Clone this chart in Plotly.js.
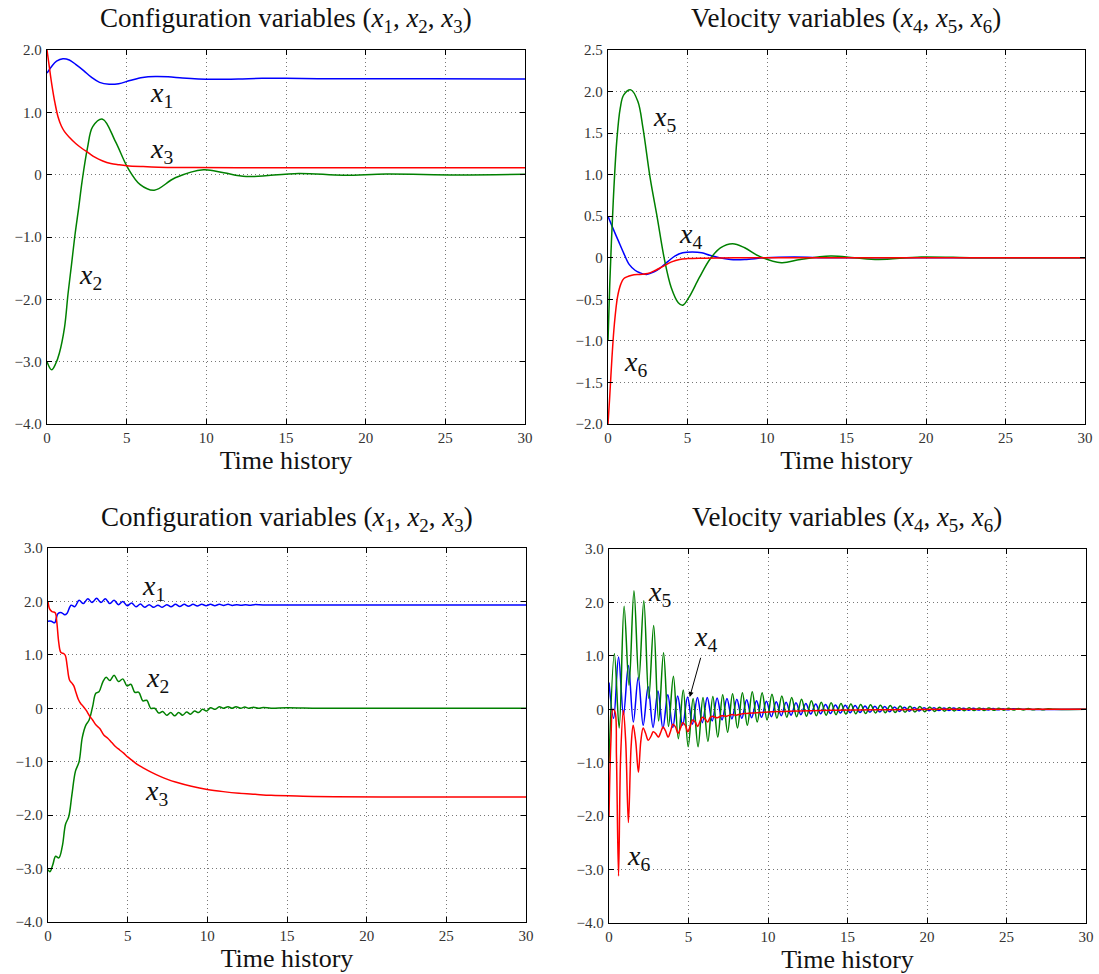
<!DOCTYPE html>
<html>
<head>
<meta charset="utf-8">
<script src="https://cdn.plot.ly/plotly-3.0.1.min.js"></script>
<style>html,body{margin:0;padding:0;background:#fff;}#chart{width:1099px;height:974px;}</style>
</head>
<body>
<div id="chart"></div>
<script>
// ---------- Data: top-left (configuration variables, case 1) ----------
const tl_t1 = [0, 0.3, 0.6, 1.0, 1.4, 1.8, 2.3, 2.8, 3.3, 3.9, 4.5, 5.2, 6.0, 6.8, 7.6, 8.5, 9.5, 10.5, 12, 13.5, 15, 17, 20, 24, 30];
const tl_x1 = [1.63, 1.74, 1.82, 1.86, 1.84, 1.77, 1.67, 1.56, 1.48, 1.45, 1.46, 1.51, 1.56, 1.575, 1.57, 1.55, 1.535, 1.53, 1.535, 1.545, 1.545, 1.54, 1.54, 1.54, 1.535];
const tl_t2 = [0, 0.29, 0.55, 0.77, 1.1, 1.32, 1.54, 1.76, 1.99, 2.2, 2.54, 2.87, 3.49, 4.3, 5.07, 5.85, 6.73, 8.05, 9.82, 11.1, 12.5, 15.8, 18.6, 21.3, 25.7, 30];
const tl_x2 = [-3.0, -3.13, -3.03, -2.87, -2.45, -1.91, -1.44, -0.96, -0.53, -0.11, 0.43, 0.77, 0.89, 0.53, 0.11, -0.16, -0.25, -0.05, 0.08, 0.03, -0.03, 0.02, -0.01, 0.01, -0.005, 0.005];
const tl_t3 = [0, 0.15, 0.3, 0.5, 0.7, 0.9, 1.1, 1.4, 1.8, 2.2, 2.6, 3.0, 3.5, 4.0, 4.5, 5.0, 6.0, 7.0, 9, 12, 20, 30];
const tl_x3 = [2.0, 1.72, 1.45, 1.15, 0.92, 0.78, 0.69, 0.6, 0.5, 0.42, 0.35, 0.28, 0.22, 0.18, 0.16, 0.145, 0.13, 0.12, 0.115, 0.11, 0.11, 0.11];

// ---------- Data: top-right (velocity variables, case 1) ----------
const tr_t4 = [0, 0.3, 0.66, 1.0, 1.33, 1.7, 2.0, 2.43, 2.9, 3.3, 3.8, 4.2, 4.7, 5.3, 5.9, 6.4, 7.0, 7.7, 8.6, 9.9, 11.7, 14, 18, 30];
const tr_x4 = [0.5, 0.36, 0.2, 0.05, -0.08, -0.15, -0.18, -0.2, -0.17, -0.12, -0.04, 0.02, 0.06, 0.07, 0.06, 0.03, 0.0, -0.02, -0.02, 0.0, 0.008, 0.0, 0.0, 0.0];
const tr_t5 = [0, 0.11, 0.33, 0.55, 0.77, 0.99, 1.44, 1.88, 2.2, 2.65, 3.1, 3.53, 3.98, 4.42, 4.7, 5.08, 5.74, 6.4, 7.07, 7.84, 8.6, 9.5, 10.9, 12.1, 14.0, 15.5, 17.0, 19.7, 23, 26, 30];
const tr_x5 = [-1.0, -0.32, 0.68, 1.4, 1.8, 1.96, 2.02, 1.88, 1.56, 0.96, 0.48, 0.0, -0.36, -0.54, -0.57, -0.48, -0.24, -0.02, 0.12, 0.17, 0.12, 0.02, -0.06, -0.02, 0.02, 0.0, -0.02, 0.01, 0.0, 0.0, 0.0];
const tr_t6 = [0, 0.1, 0.25, 0.4, 0.6, 0.8, 1.0, 1.5, 2.0, 2.5, 3.0, 3.5, 4.0, 4.5, 5.0, 6.0, 8.0, 12, 30];
const tr_x6 = [-2.0, -1.7, -1.2, -0.8, -0.47, -0.32, -0.25, -0.21, -0.2, -0.19, -0.15, -0.1, -0.05, -0.02, -0.01, -0.005, 0, 0, 0];

// ---------- Data: bottom-left (configuration variables, case 2) ----------
const bl_t1 = [0, 0.2, 0.42, 0.5, 0.62, 0.85, 1.05, 1.2, 1.45, 1.68, 1.95, 2.22, 2.5, 2.77, 3.05, 3.32, 3.6, 3.87, 4.15, 4.42, 4.7, 4.97, 5.25, 5.52, 5.8, 6.07, 6.35, 6.62, 6.9, 7.17, 7.45, 7.72, 8.0, 8.27, 8.55, 8.82, 9.1, 9.37, 9.65, 9.92, 10.2, 10.47, 10.75, 11.02, 11.3, 11.57, 11.85, 12.12, 12.4, 12.67, 12.95, 13.5, 15, 20, 30];
const bl_x1 = [1.63, 1.63, 1.6, 1.66, 1.77, 1.79, 1.75, 1.78, 1.93, 1.9, 2.02, 1.96, 2.05, 1.98, 2.06, 1.98, 2.05, 1.96, 2.02, 1.94, 2.0, 1.92, 1.97, 1.9, 1.95, 1.89, 1.94, 1.89, 1.93, 1.89, 1.94, 1.9, 1.945, 1.905, 1.945, 1.91, 1.945, 1.915, 1.945, 1.92, 1.945, 1.92, 1.945, 1.925, 1.945, 1.925, 1.94, 1.93, 1.94, 1.93, 1.94, 1.935, 1.935, 1.935, 1.935];
const bl_t2 = [0, 0.12, 0.3, 0.48, 0.68, 0.9, 1.1, 1.3, 1.5, 1.72, 1.95, 2.15, 2.37, 2.58, 2.8, 3.0, 3.2, 3.45, 3.65, 3.88, 4.15, 4.42, 4.7, 4.95, 5.2, 5.45, 5.7, 5.95, 6.2, 6.45, 6.7, 6.95, 7.2, 7.45, 7.7, 7.95, 8.2, 8.45, 8.7, 8.95, 9.2, 9.45, 9.7, 9.95, 10.2, 10.5, 10.75, 11.0, 11.3, 11.55, 11.8, 12.1, 12.35, 12.6, 12.9, 13.2, 13.5, 14, 15, 17, 20, 25, 30];
const bl_x2 = [-3.02, -3.06, -2.93, -2.77, -2.8, -2.58, -2.17, -2.03, -1.62, -1.18, -1.0, -0.55, -0.32, -0.22, 0.03, 0.28, 0.31, 0.5, 0.58, 0.52, 0.62, 0.5, 0.55, 0.42, 0.45, 0.3, 0.3, 0.14, 0.15, 0.0, 0.0, -0.09, -0.06, -0.13, -0.08, -0.14, -0.08, -0.13, -0.07, -0.11, -0.05, -0.08, -0.02, -0.05, 0.01, -0.02, 0.03, 0.0, 0.03, 0.0, 0.03, 0.0, 0.025, 0.0, 0.02, 0.0, 0.015, 0.0, 0.01, 0.0, 0.0, 0.0, 0.0];
const bl_t3 = [0, 0.1, 0.25, 0.45, 0.55, 0.68, 0.8, 1.0, 1.1, 1.2, 1.35, 1.5, 1.62, 1.75, 1.9, 2.05, 2.2, 2.4, 2.6, 2.8, 3.0, 3.25, 3.5, 3.75, 4.0, 4.25, 4.5, 4.75, 5.0, 5.3, 5.6, 6.0, 6.5, 7.0, 7.5, 8.0, 9.0, 10, 11, 12, 13, 14, 16, 18, 21, 25, 30];
const bl_x3 = [2.0, 1.86, 1.81, 1.79, 1.62, 1.22, 1.05, 1.02, 0.98, 0.8, 0.53, 0.47, 0.42, 0.3, 0.17, 0.09, 0.04, -0.04, -0.14, -0.22, -0.31, -0.38, -0.5, -0.56, -0.64, -0.72, -0.78, -0.84, -0.91, -0.98, -1.05, -1.12, -1.2, -1.27, -1.33, -1.38, -1.46, -1.52, -1.56, -1.59, -1.61, -1.63, -1.645, -1.655, -1.66, -1.66, -1.66];

// ---------- Data: bottom-right (velocity variables, case 2) ----------
const br_t4 = [0, 0.29, 0.6, 0.91, 1.22, 1.53, 1.84, 2.15, 2.46, 2.77, 3.08, 3.39, 3.7, 4.01, 4.32, 4.63, 4.94, 5.25, 5.56, 5.87, 6.18, 6.49, 6.8, 7.11, 7.42, 7.73, 8.04, 8.35, 8.66, 8.97, 9.28, 9.59, 9.9, 10.21, 10.52, 10.83, 11.14, 11.45, 11.76, 12.07, 12.38, 12.69, 13.0, 13.31, 13.62, 13.93, 14.24, 14.55, 14.86, 15.17, 15.48, 15.79, 16.1, 16.41, 16.72, 17.03, 17.34, 17.65, 17.96, 18.27, 18.58, 18.89, 19.2, 19.51, 19.82, 20.13, 20.44, 20.75, 21.06, 21.37, 21.68, 21.99, 22.3, 22.61, 22.92, 23.23, 23.54, 23.85, 24.16, 24.47, 24.78, 25.09, 25.4, 26, 30];
const br_x4 = [0.5, -0.17, 0.98, -0.1, 0.82, -0.24, 0.6, -0.3, 0.42, -0.34, 0.34, -0.36, 0.27, -0.34, 0.25, -0.3, 0.23, -0.28, 0.22, -0.25, 0.22, -0.22, 0.21, -0.2, 0.2, -0.18, 0.19, -0.17, 0.18, -0.16, 0.16, -0.15, 0.15, -0.14, 0.14, -0.12, 0.13, -0.11, 0.12, -0.1, 0.11, -0.09, 0.1, -0.085, 0.09, -0.08, 0.08, -0.07, 0.075, -0.065, 0.07, -0.06, 0.06, -0.055, 0.055, -0.05, 0.05, -0.045, 0.045, -0.04, 0.04, -0.035, 0.035, -0.03, 0.03, -0.028, 0.028, -0.025, 0.025, -0.022, 0.022, -0.02, 0.02, -0.018, 0.018, -0.015, 0.015, -0.013, 0.013, -0.011, 0.011, -0.01, 0.01, 0, 0];
const br_t5 = [0, 0.34, 0.64, 0.95, 1.26, 1.57, 1.88, 2.19, 2.5, 2.81, 3.12, 3.43, 3.74, 4.05, 4.36, 4.67, 4.98, 5.29, 5.6, 5.91, 6.22, 6.53, 6.84, 7.15, 7.46, 7.77, 8.08, 8.39, 8.7, 9.01, 9.32, 9.63, 9.94, 10.25, 10.56, 10.87, 11.18, 11.49, 11.8, 12.11, 12.42, 12.73, 13.04, 13.35, 13.66, 13.97, 14.28, 14.59, 14.9, 15.21, 15.52, 15.83, 16.14, 16.45, 16.76, 17.07, 17.38, 17.69, 18.0, 18.31, 18.62, 18.93, 19.24, 19.55, 19.86, 20.17, 20.48, 20.79, 21.1, 21.41, 21.72, 22.03, 22.34, 22.65, 22.96, 23.27, 23.58, 23.89, 24.2, 24.51, 24.82, 25.13, 25.44, 25.75, 26.06, 26.37, 26.68, 26.99, 27.3, 27.61, 28, 30];
const br_x5 = [-1.0, 1.04, -0.35, 1.93, 0.45, 2.22, 0.55, 2.03, 0.2, 1.57, -0.22, 1.06, -0.32, 0.62, -0.55, 0.36, -0.7, 0.2, -0.7, 0.22, -0.6, 0.24, -0.52, 0.27, -0.43, 0.29, -0.35, 0.31, -0.3, 0.33, -0.24, 0.31, -0.2, 0.28, -0.17, 0.25, -0.15, 0.22, -0.14, 0.19, -0.13, 0.16, -0.12, 0.13, -0.11, 0.12, -0.1, 0.11, -0.09, 0.1, -0.085, 0.09, -0.08, 0.085, -0.07, 0.075, -0.065, 0.07, -0.06, 0.06, -0.055, 0.055, -0.05, 0.05, -0.045, 0.045, -0.04, 0.04, -0.035, 0.035, -0.03, 0.03, -0.028, 0.028, -0.025, 0.025, -0.022, 0.022, -0.02, 0.02, -0.018, 0.018, -0.015, 0.015, -0.013, 0.013, -0.011, 0.011, -0.01, 0.01, 0, 0];
const br_t6 = [0, 0.12, 0.25, 0.38, 0.47, 0.6, 0.73, 0.9, 1.05, 1.22, 1.39, 1.52, 1.68, 1.85, 2.0, 2.15, 2.3, 2.47, 2.65, 2.78, 2.95, 3.1, 3.27, 3.4, 3.55, 3.72, 3.88, 4.02, 4.18, 4.34, 4.5, 4.64, 4.8, 4.96, 5.12, 5.26, 5.42, 5.58, 5.73, 5.88, 6.04, 6.2, 6.35, 6.5, 6.8, 7.1, 7.4, 7.7, 8.0, 8.5, 9.0, 10, 11, 12, 14, 17, 21, 30];
const br_x6 = [-2.0, -0.6, 0.0, -0.05, -0.9, -3.12, -0.9, -0.02, -0.6, -2.12, -0.7, -0.3, -0.6, -1.18, -0.6, -0.35, -0.45, -0.58, -0.5, -0.42, -0.46, -0.52, -0.42, -0.33, -0.4, -0.52, -0.4, -0.28, -0.33, -0.45, -0.35, -0.25, -0.3, -0.42, -0.3, -0.2, -0.24, -0.32, -0.22, -0.15, -0.18, -0.24, -0.16, -0.13, -0.16, -0.12, -0.13, -0.1, -0.11, -0.08, -0.07, -0.05, -0.04, -0.03, -0.02, -0.01, 0, 0];

// ---------- Tick labels ----------
const xTickVals = [0, 5, 10, 15, 20, 25, 30];
const xTickText = ['0', '5', '10', '15', '20', '25', '30'];
const yTickValsA = [-4, -3, -2, -1, 0, 1, 2];
const yTickTextA = ['\u22124.0', '\u22123.0', '\u22122.0', '\u22121.0', '0', '1.0', '2.0'];
const yTickValsB = [-2, -1.5, -1, -0.5, 0, 0.5, 1, 1.5, 2, 2.5];
const yTickTextB = ['\u22122.0', '\u22121.5', '\u22121.0', '\u22120.5', '0', '0.5', '1.0', '1.5', '2.0', '2.5'];
const yTickValsC = [-4, -3, -2, -1, 0, 1, 2, 3];
const yTickTextC = ['\u22124.0', '\u22123.0', '\u22122.0', '\u22121.0', '0', '1.0', '2.0', '3.0'];

const titleConfig = 'Configuration variables (<i>x</i><sub>1</sub>, <i>x</i><sub>2</sub>, <i>x</i><sub>3</sub>)';
const titleVelocity = 'Velocity variables (<i>x</i><sub>4</sub>, <i>x</i><sub>5</sub>, <i>x</i><sub>6</sub>)';
const xLabel = 'Time history';

// ---------- Styling ----------
const SERIF = "'Liberation Serif', 'Times New Roman', serif";
const BLUE = '#0000ff', GREEN = '#008000', RED = '#ff0000';
const W = 1099, H = 974;

function tr(x, y, color, xa, ya) {
  return {x: x, y: y, type: 'scatter', mode: 'lines', xaxis: xa, yaxis: ya,
          line: {color: color, width: 1.5, shape: 'spline', smoothing: 1},
          hoverinfo: 'skip', showlegend: false};
}

const data = [
  tr(tl_t1, tl_x1, BLUE, 'x', 'y'), tr(tl_t2, tl_x2, GREEN, 'x', 'y'), tr(tl_t3, tl_x3, RED, 'x', 'y'),
  tr(tr_t4, tr_x4, BLUE, 'x2', 'y2'), tr(tr_t5, tr_x5, GREEN, 'x2', 'y2'), tr(tr_t6, tr_x6, RED, 'x2', 'y2'),
  tr(bl_t1, bl_x1, BLUE, 'x3', 'y3'), tr(bl_t2, bl_x2, GREEN, 'x3', 'y3'), tr(bl_t3, bl_x3, RED, 'x3', 'y3'),
  tr(br_t4, br_x4, BLUE, 'x4', 'y4'), tr(br_t5, br_x5, GREEN, 'x4', 'y4'), tr(br_t6, br_x6, RED, 'x4', 'y4')
];

function px(a, b) { return [a / W, b / W]; }
function py(top, bottom) { return [1 - bottom / H, 1 - top / H]; }

function xa(domain, anchor) {
  return {domain: domain, anchor: anchor, range: [0, 30], tickvals: xTickVals, ticktext: xTickText,
          ticks: 'inside', ticklen: 5, tickcolor: '#000', mirror: 'allticks', showline: true,
          linecolor: '#000', linewidth: 1.3, showgrid: true, gridcolor: '#777', griddash: '1px,3px',
          gridwidth: 1, zeroline: false, fixedrange: true,
          tickfont: {family: SERIF, size: 15, color: '#333'},
          title: {text: xLabel, font: {family: SERIF, size: 26, color: '#111'}, standoff: 4}};
}
function ya(domain, anchor, range, vals, text) {
  return {domain: domain, anchor: anchor, range: range, tickvals: vals, ticktext: text,
          ticks: 'inside', ticklen: 5, tickcolor: '#000', mirror: 'allticks', showline: true,
          linecolor: '#000', linewidth: 1.3, showgrid: true, gridcolor: '#777', griddash: '1px,3px',
          gridwidth: 1, zeroline: false, fixedrange: true, ticklabelstandoff: 1,
          tickfont: {family: SERIF, size: 15, color: '#333'}};
}

function lab(text, x, y, xr, yr) {
  return {text: text, x: x, y: y, xref: xr, yref: yr, showarrow: false,
          font: {family: SERIF, size: 28, color: '#111'}};
}
function ttl(text, xc, yc) {
  return {text: text, x: xc / W, y: 1 - yc / H, xref: 'paper', yref: 'paper', showarrow: false,
          xanchor: 'center', yanchor: 'middle', font: {family: SERIF, size: 27, color: '#111'}};
}

const layout = {
  width: W, height: H, margin: {l: 0, r: 0, t: 0, b: 0},
  paper_bgcolor: '#fff', plot_bgcolor: '#fff', showlegend: false,
  xaxis: xa(px(47, 525), 'y'),
  yaxis: ya(py(50, 424), 'x', [-4, 2], yTickValsA, yTickTextA),
  xaxis2: xa(px(608, 1085), 'y2'),
  yaxis2: ya(py(50, 424), 'x2', [-2, 2.5], yTickValsB, yTickTextB),
  xaxis3: xa(px(48, 526), 'y3'),
  yaxis3: ya(py(548, 922), 'x3', [-4, 3], yTickValsC, yTickTextC),
  xaxis4: xa(px(609, 1086), 'y4'),
  yaxis4: ya(py(549, 923), 'x4', [-4, 3], yTickValsC, yTickTextC),
  annotations: [
    ttl(titleConfig, 286, 20), ttl(titleVelocity, 846, 20),
    ttl(titleConfig, 287, 519), ttl(titleVelocity, 847, 519),
    lab('<i>x</i><sub>1</sub>', 7.2, 1.28, 'x', 'y'),
    lab('<i>x</i><sub>3</sub>', 7.2, 0.39, 'x', 'y'),
    lab('<i>x</i><sub>2</sub>', 2.75, -1.63, 'x', 'y'),
    lab('<i>x</i><sub>5</sub>', 3.55, 1.68, 'x2', 'y2'),
    lab('<i>x</i><sub>4</sub>', 5.2, 0.27, 'x2', 'y2'),
    lab('<i>x</i><sub>6</sub>', 1.7, -1.27, 'x2', 'y2'),
    lab('<i>x</i><sub>1</sub>', 6.65, 2.27, 'x3', 'y3'),
    lab('<i>x</i><sub>2</sub>', 6.85, 0.53, 'x3', 'y3'),
    lab('<i>x</i><sub>3</sub>', 6.8, -1.58, 'x3', 'y3'),
    lab('<i>x</i><sub>5</sub>', 3.2, 2.16, 'x4', 'y4'),
    lab('<i>x</i><sub>6</sub>', 1.85, -2.77, 'x4', 'y4'),
    {text: '<i>x</i><sub>4</sub>', x: 5.08, y: 0.23, xref: 'x4', yref: 'y4',
     ax: 6.1, ay: 1.32, axref: 'x4', ayref: 'y4', showarrow: true,
     arrowhead: 2, arrowsize: 1, arrowwidth: 1, arrowcolor: '#000', standoff: 0,
     font: {family: SERIF, size: 28, color: '#111'}}
  ]
};

Plotly.newPlot('chart', data, layout, {staticPlot: true, displayModeBar: false});
</script>
</body>
</html>
